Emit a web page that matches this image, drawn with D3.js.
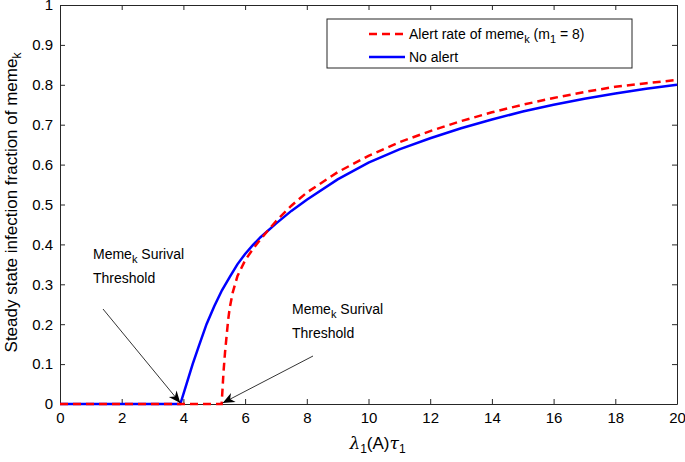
<!DOCTYPE html>
<html>
<head>
<meta charset="utf-8">
<script src="https://cdn.jsdelivr.net/npm/d3@7"></script>
<style>
  body { margin: 0; background: #fff; }
  text { font-family: "Liberation Sans", Arial, sans-serif; fill: #000; }
</style>
</head>
<body>
<div id="chart"></div>
<script>
// data
var xTicks = [0, 2, 4, 6, 8, 10, 12, 14, 16, 18, 20];
var yTicks = [0, 0.1, 0.2, 0.3, 0.4, 0.5, 0.6, 0.7, 0.8, 0.9, 1];

var noAlertX = [0, 3.9, 4.1, 4.3, 4.5, 4.75, 5, 5.25, 5.5, 5.75, 6, 6.25, 6.5, 7, 7.5, 8, 9, 10, 11, 12, 13, 14, 15, 16, 17, 18, 19, 20];
var noAlertY = [0, 0, 0.05, 0.1, 0.145, 0.2, 0.245, 0.285, 0.318, 0.35, 0.376, 0.398, 0.418, 0.452, 0.484, 0.512, 0.563, 0.605, 0.638, 0.666, 0.691, 0.713, 0.733, 0.75, 0.765, 0.778, 0.79, 0.80];

var alertX = [0, 5.24, 5.3, 5.35, 5.4, 5.45, 5.5, 5.6, 5.75, 6, 6.25, 6.5, 7, 7.5, 8, 9, 10, 11, 12, 13, 14, 15, 16, 17, 18, 19, 20];
var alertY = [0, 0, 0.08, 0.13, 0.17, 0.21, 0.24, 0.28, 0.32, 0.36, 0.388, 0.413, 0.458, 0.497, 0.53, 0.581, 0.622, 0.656, 0.684, 0.709, 0.731, 0.75, 0.767, 0.782, 0.795, 0.804, 0.812];

var W = 685, H = 462;
var pLeft = 60, pRight = 677, pTop = 5, pBottom = 404;

var svg = d3.select("#chart")
  .append("svg")
  .attr("width", W)
  .attr("height", H);

var x = d3.scaleLinear().domain([0, 20]).range([pLeft, pRight]);
var y = d3.scaleLinear().domain([0, 1]).range([pBottom, pTop]);

var axisColor = "#262626";

// axes, ticks pointing inward like matlab
var xAxis = svg.append("g")
  .attr("transform", "translate(0," + pBottom + ")")
  .call(d3.axisBottom(x).tickValues(xTicks).tickSizeInner(-5).tickSizeOuter(0).tickPadding(8));
var xTop = svg.append("g")
  .attr("transform", "translate(0," + pTop + ")")
  .call(d3.axisTop(x).tickValues(xTicks).tickSizeInner(-5).tickSizeOuter(0).tickFormat(""));
var yAxis = svg.append("g")
  .attr("transform", "translate(" + pLeft + ",0)")
  .call(d3.axisLeft(y).tickValues(yTicks).tickSizeInner(-5).tickSizeOuter(0).tickPadding(7).tickFormat(function(d){ return d; }));
var yRight = svg.append("g")
  .attr("transform", "translate(" + pRight + ",0)")
  .call(d3.axisRight(y).tickValues(yTicks).tickSizeInner(-5).tickSizeOuter(0).tickFormat(""));

[xAxis, xTop, yAxis, yRight].forEach(function(g){
  g.selectAll("path").attr("stroke", axisColor);
  g.selectAll("line").attr("stroke", axisColor);
  g.selectAll("text").style("font-size", "15px").style("font-family", "Liberation Sans, Arial, sans-serif").attr("fill", "#000");
});

// lines
var line = d3.line()
  .x(function(d){ return x(d[0]); })
  .y(function(d){ return y(d[1]); });

var blueData = noAlertX.map(function(v, i){ return [v, noAlertY[i]]; });
var redData = alertX.map(function(v, i){ return [v, alertY[i]]; });

svg.append("path")
  .datum(blueData)
  .attr("d", line)
  .attr("fill", "none")
  .attr("stroke", "#0000ff")
  .attr("stroke-width", 2.5);

svg.append("path")
  .datum(redData)
  .attr("d", line)
  .attr("fill", "none")
  .attr("stroke", "#ff0000")
  .attr("stroke-width", 2.5)
  .attr("stroke-dasharray", "8,5");

// annotations
function arrow(x1, y1, x2, y2){
  svg.append("line")
    .attr("x1", x1).attr("y1", y1)
    .attr("x2", x2).attr("y2", y2)
    .attr("stroke", "#000").attr("stroke-width", 0.8);
  var a = Math.atan2(y2 - y1, x2 - x1);
  var len = 12, wid = 5;
  var bx = x2 - len * Math.cos(a), by = y2 - len * Math.sin(a);
  var nx = -Math.sin(a), ny = Math.cos(a);
  var mx = x2 - len * 0.7 * Math.cos(a), my = y2 - len * 0.7 * Math.sin(a);
  svg.append("path")
    .attr("d", "M" + x2 + "," + y2 +
      "L" + (bx + nx * wid) + "," + (by + ny * wid) +
      "L" + mx + "," + my +
      "L" + (bx - nx * wid) + "," + (by - ny * wid) + "Z")
    .attr("fill", "#000");
}

function memeLabel(tx, ty){
  var t = svg.append("text").attr("x", tx).attr("y", ty).style("font-size", "14px");
  t.append("tspan").text("Meme");
  t.append("tspan").attr("dy", 4).style("font-size", "11px").text("k");
  t.append("tspan").attr("dy", -4).text(" Surival");
  svg.append("text").attr("x", tx).attr("y", ty + 24).style("font-size", "14px").text("Threshold");
}

memeLabel(93, 259);
arrow(103, 309, x(3.9), pBottom - 1);
memeLabel(292, 314);
arrow(313, 356, x(5.24) + 1, pBottom - 1);

// legend
var lg = svg.append("g");
lg.append("rect")
  .attr("x", 327).attr("y", 19)
  .attr("width", 305).attr("height", 49)
  .attr("fill", "#fff").attr("stroke", axisColor).attr("stroke-width", 1);
lg.append("line")
  .attr("x1", 369).attr("x2", 405).attr("y1", 34).attr("y2", 34)
  .attr("stroke", "#ff0000").attr("stroke-width", 2.5).attr("stroke-dasharray", "8,5");
lg.append("line")
  .attr("x1", 369).attr("x2", 405).attr("y1", 57).attr("y2", 57)
  .attr("stroke", "#0000ff").attr("stroke-width", 2.5);
var l1 = lg.append("text").attr("x", 409).attr("y", 39).style("font-size", "14px");
l1.append("tspan").text("Alert rate of meme");
l1.append("tspan").attr("dy", 4).style("font-size", "11px").text("k");
l1.append("tspan").attr("dy", -4).text(" (m");
l1.append("tspan").attr("dy", 4).style("font-size", "11px").text("1");
l1.append("tspan").attr("dy", -4).text(" = 8)");
lg.append("text").attr("x", 409).attr("y", 62).style("font-size", "14px").text("No alert");

// axis titles
var xl = svg.append("text")
  .attr("x", (pLeft + pRight) / 2 + 9).attr("y", 449)
  .attr("text-anchor", "middle")
  .style("font-size", "17px");
xl.append("tspan").style("font-family", "DejaVu Serif, serif").style("font-style", "italic").text("λ");
xl.append("tspan").attr("dy", 4).style("font-size", "12px").text("1");
xl.append("tspan").attr("dy", -4).text("(A)");
xl.append("tspan").style("font-family", "DejaVu Serif, serif").style("font-style", "italic").text("τ");
xl.append("tspan").attr("dy", 4).style("font-size", "12px").text("1");

var yl = svg.append("text")
  .attr("transform", "translate(17," + ((pTop + pBottom) / 2 - 2) + ") rotate(-90)")
  .attr("text-anchor", "middle")
  .style("font-size", "17px");
yl.append("tspan").text("Steady state infection fraction of meme");
yl.append("tspan").attr("dy", 4).style("font-size", "12px").text("k");
</script>
</body>
</html>
